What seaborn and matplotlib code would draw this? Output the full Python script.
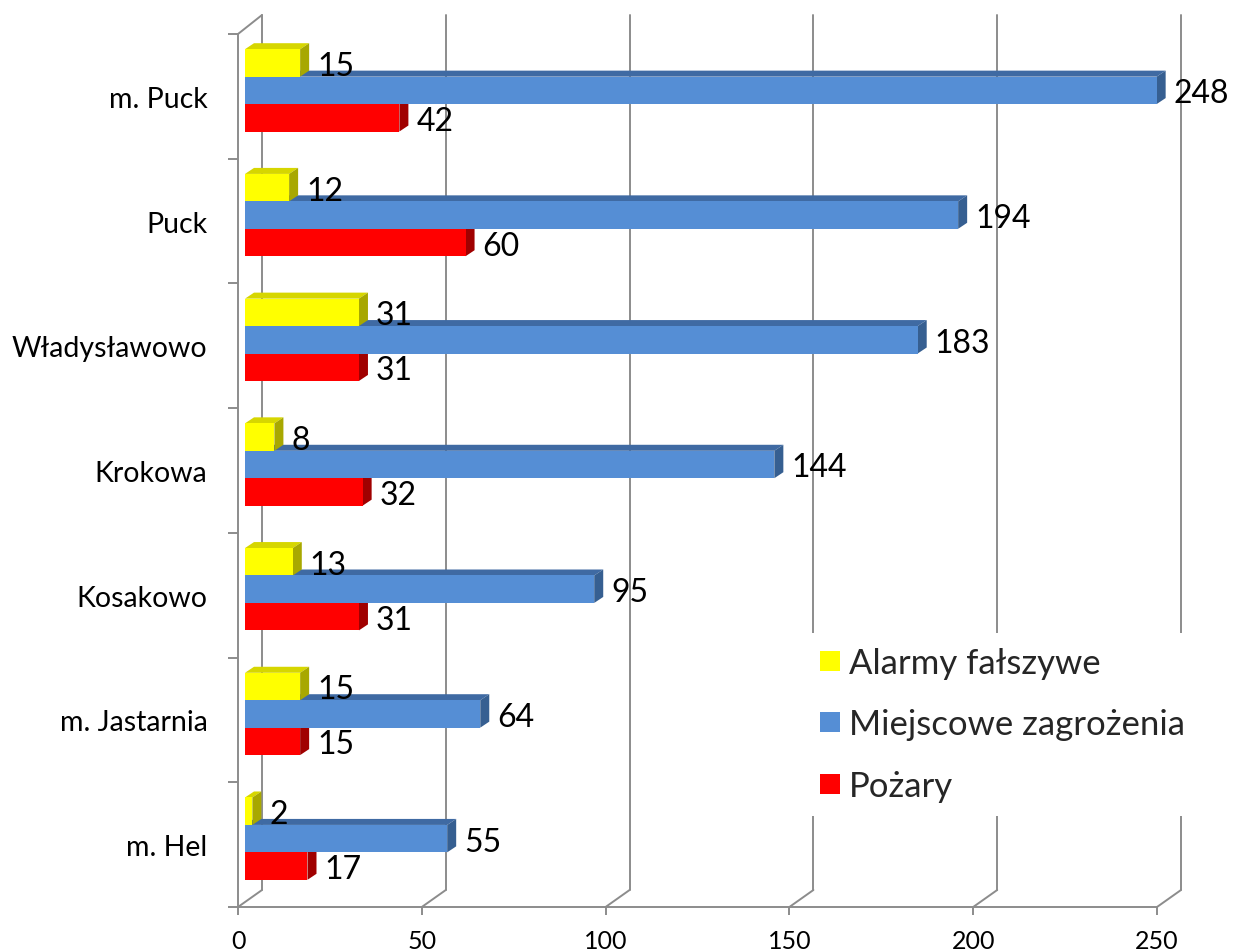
import numpy as np
import pandas as pd
import matplotlib
matplotlib.use("Agg")
import matplotlib.pyplot as plt
import seaborn as sns
from matplotlib.transforms import IdentityTransform, ScaledTranslation
from matplotlib.lines import Line2D
from matplotlib.patches import Polygon

# ---- data ----
categories = ["m. Puck", "Puck", "Władysławowo", "Krokowa", "Kosakowo", "m. Jastarnia", "m. Hel"]
series = ["Alarmy fałszywe", "Miejscowe zagrożenia", "Pożary"]
alarmy = [15, 12, 31, 8, 13, 15, 2]
miejscowe = [248, 194, 183, 144, 95, 64, 55]
pozary = [42, 60, 31, 32, 31, 15, 17]
x_ticks = [0, 50, 100, 150, 200, 250]

front_colors = ["#FFFF00", "#558ED5", "#FF0000"]
top_colors = ["#D6D600", "#3F6AA3", "#C00000"]
side_colors = ["#A8A800", "#365F91", "#A00000"]
grid_color = "#8C8C8C"

df = pd.DataFrame({
    "Gmina": categories * 3,
    "Seria": np.repeat(series, len(categories)),
    "Liczba": alarmy + miejscowe + pozary,
})

sns.set_theme(style="white")
plt.rcParams["font.family"] = ["Lato", "DejaVu Sans"]

W, H, DPI = 1233, 953, 100
fig = plt.figure(figsize=(W / DPI, H / DPI), dpi=DPI)
ax = fig.add_axes([238 / W, 45 / H, 919 / W, 873 / H])

sns.barplot(data=df, y="Gmina", x="Liczba", hue="Seria", order=categories,
            hue_order=series, palette=front_colors, orient="h", width=0.66,
            saturation=1, linewidth=0, errorbar=None, legend=False, ax=ax)

ax.set_xlim(0, 250)
ax.set_ylim(len(categories) - 0.5, -0.5)
ax.set_xlabel("")
ax.set_ylabel("")
ax.set_xticks(x_ticks)
ax.set_xticklabels([str(t) for t in x_ticks])
ax.set_yticks(range(len(categories)))
ax.set_yticks(np.arange(len(categories) + 1) - 0.5, minor=True)

for s in ["top", "right"]:
    ax.spines[s].set_visible(False)
for s in ["left", "bottom"]:
    ax.spines[s].set_color(grid_color)
    ax.spines[s].set_linewidth(1.4)

ax.tick_params(axis="x", direction="out", length=5.8, width=1.4, color=grid_color,
               labelsize=18, pad=10, labelcolor="black", bottom=True)
ax.tick_params(axis="y", which="major", length=0, labelsize=20.5, pad=22, labelcolor="black", left=True)
ax.tick_params(axis="y", which="minor", direction="out", length=7.2, width=1.4, color=grid_color, left=True)

# ---- pseudo-3D walls / gridlines ----
dX, dY = 24, 17
trans = ax.transData
ident = IdentityTransform()
y_bottom = trans.transform((0, len(categories) - 0.5))[1]
y_top = trans.transform((0, -0.5))[1]
for v in x_ticks:
    xd = trans.transform((v, 0))[0]
    ax.add_line(Line2D([xd, xd + dX], [y_bottom, y_bottom + dY], transform=ident,
                       color=grid_color, lw=1.4, zorder=0.5, clip_on=False))
    ax.add_line(Line2D([xd + dX, xd + dX], [y_bottom + dY, y_top + 19], transform=ident,
                       color=grid_color, lw=1.4, zorder=0.5, clip_on=False))
x0d = trans.transform((0, 0))[0]
ax.add_line(Line2D([x0d, x0d + dX], [y_top, y_top + 19], transform=ident,
                   color=grid_color, lw=1.4, zorder=0.5, clip_on=False))

# ---- pseudo-3D bars ----
shift_x, shift_y = 7, 6
depth_x, depth_y = 9, 6
bar_shift = trans + ScaledTranslation(shift_x / DPI, shift_y / DPI, fig.dpi_scale_trans)
for i, cont in enumerate(ax.containers):
    base_z = 5 - i
    for p in cont.patches:
        (xa, ya) = trans.transform((p.get_x(), p.get_y()))
        (xb, yb) = trans.transform((p.get_x() + p.get_width(), p.get_y() + p.get_height()))
        L, R = min(xa, xb) + shift_x, max(xa, xb) + shift_x
        B, T = min(ya, yb) + shift_y, max(ya, yb) + shift_y
        p.set_transform(bar_shift)
        p.set_zorder(base_z + 0.2)
        top = Polygon([(L, T), (R, T), (R + depth_x, T + depth_y), (L + depth_x, T + depth_y)],
                      closed=True, transform=ident, facecolor=top_colors[i], edgecolor="none",
                      zorder=base_z, clip_on=False)
        side = Polygon([(R, B), (R + depth_x, B + depth_y), (R + depth_x, T + depth_y), (R, T)],
                       closed=True, transform=ident, facecolor=side_colors[i], edgecolor="none",
                       zorder=base_z + 0.1, clip_on=False)
        ax.add_patch(top)
        ax.add_patch(side)
        val = p.get_width()
        ax.annotate(f"{val:.0f}", xy=(val, p.get_y() + p.get_height() / 2), xycoords="data",
                    xytext=((shift_x + 17) * 0.72, (shift_y - 3) * 0.72), textcoords="offset points",
                    ha="left", va="center", fontsize=23, color="black", zorder=8)

# ---- legend ----
handles = [Line2D([], [], marker="s", linestyle="", markersize=14.4, color=c,
                  markeredgewidth=0) for c in front_colors]
leg = ax.legend(handles, series, loc="upper left", bbox_to_anchor=(805 / W, 1 - 634 / H),
                bbox_transform=fig.transFigure, fontsize=25, frameon=True, facecolor="white",
                edgecolor="none", framealpha=1, borderpad=0.4, borderaxespad=0,
                handlelength=0.65, handletextpad=0.22, labelspacing=0.85)
leg.set_zorder(10)

fig.savefig("out.png", dpi=DPI)
